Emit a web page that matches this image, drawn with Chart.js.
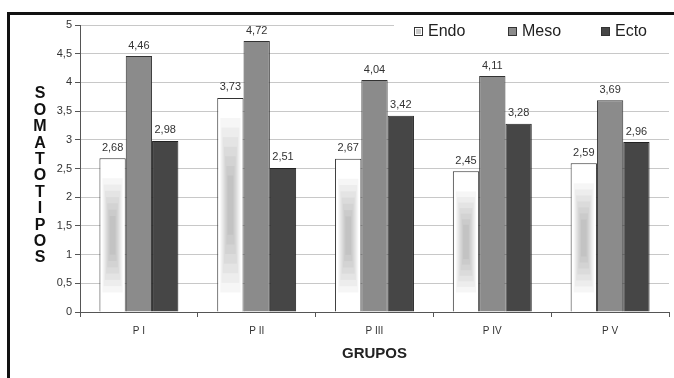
<!DOCTYPE html>
<html>
<head>
<meta charset="utf-8">
<script src="https://cdn.jsdelivr.net/npm/chart.js@4"></script>
<style>
  html, body { margin: 0; padding: 0; background: #fff; }
  #wrap { position: relative; width: 674px; height: 378px; }
</style>
</head>
<body>
<div id="wrap"><canvas id="myChart" width="674" height="378"></canvas></div>
<script>
// datos del gráfico
const grupos = ['P I', 'P II', 'P III', 'P IV', 'P V'];
const endo = [2.68, 3.73, 2.67, 2.45, 2.59];
const meso = [4.46, 4.72, 4.04, 4.11, 3.69];
const ecto = [2.98, 2.51, 3.42, 3.28, 2.96];
const yTicks = [0, 0.5, 1, 1.5, 2, 2.5, 3, 3.5, 4, 4.5, 5];
const ejeY = 'SOMATOTIPOS';
const ejeX = 'GRUPOS';

const coma = v => String(v).replace('.', ',');

// marco negro (arriba e izquierda)
const framePlugin = {
    id: 'frame',
    afterDraw(chart) {
        const ctx = chart.ctx;
        ctx.save();
        ctx.fillStyle = '#111';
        ctx.fillRect(7, 12, 674, 3);
        ctx.fillRect(7, 12, 3, 378);
        ctx.restore();
    }
};

// degradado gris dentro de las barras Endo
const endoShade = {
    id: 'endoShade',
    afterDatasetsDraw(chart) {
        const ctx = chart.ctx;
        const meta = chart.getDatasetMeta(0);
        ctx.save();
        meta.data.forEach(bar => {
            const p = bar.getProps(['x', 'y', 'base', 'width'], true);
            const left = p.x - p.width / 2 + 3;
            const right = p.x + p.width / 2 - 3;
            const top = p.y + 20;
            const bottom = p.base - 19;
            const h = bottom - top;
            const steps = 7;
            for (let k = 0; k < steps; k++) {
                const ix = k * 1.2;
                const iy = k * h * 0.055;
                ctx.fillStyle = 'rgba(0,0,0,0.035)';
                ctx.fillRect(left + ix, top + iy, right - left - 2 * ix, h - 2 * iy);
            }
        });
        ctx.restore();
    }
};

// etiquetas de valores
const valueLabels = {
    id: 'valueLabels',
    afterDatasetsDraw(chart) {
        const ctx = chart.ctx;
        ctx.save();
        ctx.font = '11px Arial, "Liberation Sans"';
        ctx.fillStyle = '#333';
        ctx.textAlign = 'center';
        ctx.textBaseline = 'bottom';
        chart.data.datasets.forEach((ds, i) => {
            chart.getDatasetMeta(i).data.forEach((bar, j) => {
                ctx.fillText(coma(ds.data[j]), bar.x, bar.y - 5);
            });
        });
        ctx.restore();
    }
};

// leyenda dentro del área
const legendPlugin = {
    id: 'customLegend',
    beforeDatasetsDraw(chart) {
        const ctx = chart.ctx;
        ctx.save();
        ctx.fillStyle = '#fff';
        ctx.fillRect(394, 16, 278, 30);
        ctx.font = '16px Arial, "Liberation Sans"';
        ctx.textBaseline = 'middle';
        const xs = [414, 508, 601];
        chart.data.datasets.forEach((ds, i) => {
            ctx.fillStyle = ds.backgroundColor;
            ctx.fillRect(xs[i], 27, 8, 8);
            ctx.strokeStyle = '#333';
            ctx.lineWidth = 1;
            ctx.strokeRect(xs[i] + 0.5, 27.5, 8, 8);
            if (i === 0) {
                ctx.fillStyle = '#c8c8c8';
                ctx.fillRect(xs[i] + 2, 29, 5, 5);
            }
            ctx.fillStyle = '#222';
            ctx.fillText(ds.label, xs[i] + 14, 32);
        });
        ctx.restore();
    }
};

// título vertical del eje Y, letra por letra
const yTitlePlugin = {
    id: 'yTitle',
    afterDraw(chart) {
        const ctx = chart.ctx;
        ctx.save();
        ctx.font = 'bold 16px Arial, "Liberation Sans"';
        ctx.fillStyle = '#111';
        ctx.textAlign = 'center';
        ctx.textBaseline = 'middle';
        ejeY.split('').forEach((ch, i) => {
            ctx.fillText(ch, 40, 94 + i * 16.4);
        });
        ctx.restore();
    }
};

const ctx = document.getElementById('myChart');
new Chart(ctx, {
    type: 'bar',
    data: {
        labels: grupos,
        datasets: [
            { label: 'Endo', data: endo, backgroundColor: '#ffffff', borderColor: '#333', borderWidth: 1 },
            { label: 'Meso', data: meso, backgroundColor: '#8b8b8b', borderColor: '#333', borderWidth: 1 },
            { label: 'Ecto', data: ecto, backgroundColor: '#464646', borderColor: '#222', borderWidth: 1 }
        ]
    },
    options: {
        responsive: false,
        animation: false,
        layout: { padding: { left: 0, right: 5, top: 25, bottom: 0 } },
        categoryPercentage: 0.67,
        barPercentage: 1,
        plugins: {
            legend: { display: false },
            tooltip: { enabled: false }
        },
        scales: {
            x: {
                grid: { offset: true, drawOnChartArea: false, tickLength: 5, tickColor: '#555' },
                border: { color: '#555', width: 1 },
                ticks: { color: '#333', font: { size: 10, family: 'Arial' }, padding: 8 },
                title: { display: true, text: ejeX, color: '#222', font: { size: 15, weight: 'bold', family: 'Arial' }, padding: { top: 6, bottom: 15 } },
                afterFit(scale) { scale.height = 66; }
            },
            y: {
                min: 0,
                max: 5,
                afterBuildTicks(scale) { scale.ticks = yTicks.map(v => ({ value: v })); },
                grid: { color: '#c8c8c8', tickColor: '#555', tickLength: 5 },
                border: { color: '#555', width: 1 },
                ticks: { color: '#333', font: { size: 11, family: 'Arial' }, padding: 3, callback: v => coma(v) },
                afterFit(scale) { scale.width = 80; }
            }
        }
    },
    plugins: [framePlugin, endoShade, valueLabels, legendPlugin, yTitlePlugin]
});
</script>
</body>
</html>
